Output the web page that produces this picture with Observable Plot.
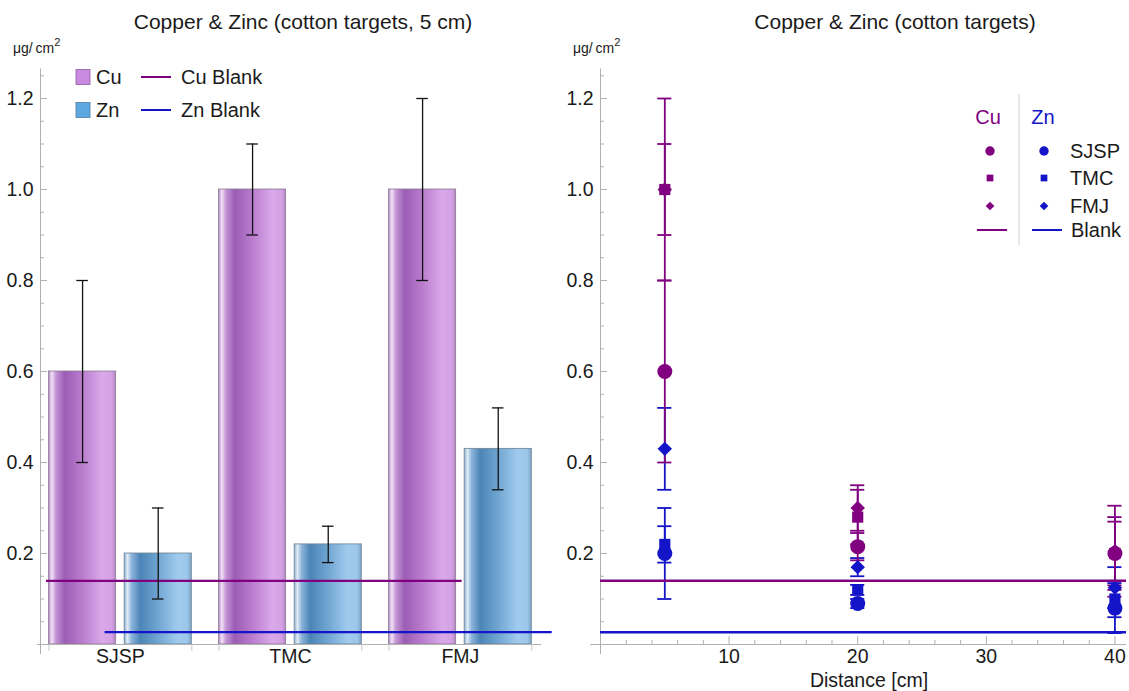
<!DOCTYPE html>
<html><head><meta charset="utf-8">
<script src="https://cdn.jsdelivr.net/npm/d3@7"></script>
<script src="https://cdn.jsdelivr.net/npm/@observablehq/plot@0.6"></script>
<style>
body{margin:0;background:#fff;}
#wrap{position:relative;width:1129px;height:691px;overflow:hidden;background:#fff;}
.panel{position:absolute;top:0;}
#overlay{position:absolute;left:0;top:0;pointer-events:none;}
</style></head>
<body><div id="wrap"><div id="left" class="panel" style="left:0"></div><div id="right" class="panel" style="left:560px"></div></div>
<script>
// ---------------- data ----------------
const sources = ["SJSP", "TMC", "FMJ"];
// 5 cm bar chart
const cu5 = [0.6, 1.0, 1.0];
const cu5Err = [0.2, 0.1, 0.2];
const zn5 = [0.2, 0.22, 0.43];
const zn5Err = [0.1, 0.04, 0.09];
const cuBlank = 0.14;
const znBlank = 0.027;
// distance chart (rows: SJSP, TMC, FMJ; columns: distances)
const distances = [5, 20, 40];
const cuByDist = [[0.6, 0.215, 0.2], [1.0, 0.28, 0.2], [1.0, 0.30, 0.205]];
const cuByDistErr = [[0.2, 0.03, 0.07], [0.1, 0.06, 0.08], [0.2, 0.05, 0.1]];
const znByDist = [[0.2, 0.09, 0.08], [0.22, 0.12, 0.1], [0.43, 0.17, 0.125]];
const znByDistErr = [[0.1, 0.01, 0.055], [0.04, 0.011, 0.04], [0.09, 0.02, 0.045]];
const yTicks = [0.2, 0.4, 0.6, 0.8, 1.0, 1.2];
const distTicks = [10, 20, 30, 40];
const symbols = ["circle", "square", "diamond2"];

// ---------------- style ----------------
const FONT = "'Liberation Sans', Arial, sans-serif";
const TICK_FS = 19.5;
const cuColor = "#800080";
const znColor = "#1414c8";
const axisGray = "#b0b0b0";
const textColor = "#1a1a1a";
const H = 691, MB = 47, yTop = 1.265;
const MT = H - MB - yTop * 455;
const innerH = H - MT - MB;
const minorY = d3.range(1, 26).map(k => +(k * 0.05).toFixed(2)).filter((v, k) => (k + 1) % 4 !== 0);
const baseStyle = {fontFamily: FONT, fontSize: TICK_FS + "px", color: textColor, background: "transparent", overflow: "visible"};

// ---------------- left chart ----------------
const bars = sources.flatMap((s, i) => [
  {pos: i + 1, el: "Cu", v: cu5[i], e: cu5Err[i]},
  {pos: i + 1, el: "Zn", v: zn5[i], e: zn5Err[i]}
]);
const off = {Cu: [-0.42, -0.025], Zn: [0.025, 0.42]};
bars.forEach(b => { b.x1 = b.pos + off[b.el][0]; b.x2 = b.pos + off[b.el][1]; b.xc = (b.x1 + b.x2) / 2; });
const caps = bars.flatMap(b => [{xc: b.xc, y: b.v - b.e}, {xc: b.xc, y: b.v + b.e}]);
const edges = sources.flatMap((s, i) => [i + 1 - 0.42, i + 1 + 0.42]);
const LW = 560, LML = 40, LMR = 19;
const innerWL = LW - LML - LMR;

const left = Plot.plot({
  width: LW, height: H, marginLeft: LML, marginRight: LMR, marginTop: MT, marginBottom: MB,
  x: {domain: [0.53, 3.477]}, y: {domain: [0, yTop]},
  style: baseStyle,
  marks: [
    Plot.rectY(bars.filter(b => b.el === "Cu"), {x1: "x1", x2: "x2", y1: 0, y2: "v", fill: "url(#gCu)", stroke: "#8a7a90", strokeWidth: 0.8}),
    Plot.rectY(bars.filter(b => b.el === "Zn"), {x1: "x1", x2: "x2", y1: 0, y2: "v", fill: "url(#gZn)", stroke: "#6f8090", strokeWidth: 0.8}),
    Plot.ruleY([cuBlank], {x1: 0.565, x2: 3.01, stroke: cuColor, strokeWidth: 2.2}),
    Plot.ruleY([znBlank], {x1: 0.91, x2: 3.54, stroke: znColor, strokeWidth: 2.2}),
    Plot.ruleX(bars, {x: "xc", y1: d => d.v - d.e, y2: d => d.v + d.e, stroke: "#111", strokeWidth: 1.3}),
    Plot.ruleY(caps, {y: "y", x1: d => d.xc - 0.034, x2: d => d.xc + 0.034, stroke: "#111", strokeWidth: 1.3}),
    Plot.ruleX([0.53], {stroke: axisGray, insetBottom: -10}),
    Plot.ruleY([0], {stroke: axisGray, insetLeft: -3}),
    Plot.ruleY(minorY, {stroke: axisGray, insetRight: innerWL - 4}),
    Plot.ruleY(yTicks, {stroke: axisGray, insetRight: innerWL - 7}),
    Plot.ruleX(edges, {stroke: "#c8c8c8", insetTop: innerH, insetBottom: -7}),
    Plot.axisY({ticks: yTicks, tickSize: 0, tickPadding: 7, tickFormat: d3.format(".1f"), label: null, fontSize: TICK_FS}),
    Plot.axisX({ticks: [1, 2, 3], tickFormat: d => sources[d - 1], tickSize: 0, tickPadding: 5, label: null, fontSize: TICK_FS})
  ]
});
document.getElementById("left").appendChild(left);
d3.select(left).insert("defs", ":first-child").html(`
<linearGradient id="gCu" x1="0" x2="1" y1="0" y2="0">
 <stop offset="0" stop-color="#b58ac8"/><stop offset="0.05" stop-color="#f2e2f7"/>
 <stop offset="0.11" stop-color="#c496d6"/><stop offset="0.24" stop-color="#9b5db5"/>
 <stop offset="0.5" stop-color="#b97ccd"/><stop offset="0.8" stop-color="#daa9ea"/>
 <stop offset="0.94" stop-color="#d4a2e4"/><stop offset="1" stop-color="#b487c6"/>
</linearGradient>
<linearGradient id="gZn" x1="0" x2="1" y1="0" y2="0">
 <stop offset="0" stop-color="#8db2d4"/><stop offset="0.05" stop-color="#dfecf6"/>
 <stop offset="0.11" stop-color="#8cb4da"/><stop offset="0.24" stop-color="#4b85b7"/>
 <stop offset="0.5" stop-color="#70a5d1"/><stop offset="0.8" stop-color="#a0cbee"/>
 <stop offset="0.94" stop-color="#9cc6ea"/><stop offset="1" stop-color="#7aa3c8"/>
</linearGradient>`);

// ---------------- right chart ----------------
const pts = [];
["Cu", "Zn"].forEach(el => {
  const M = el === "Cu" ? cuByDist : znByDist, E = el === "Cu" ? cuByDistErr : znByDistErr;
  sources.forEach((s, i) => distances.forEach((d, j) => pts.push({el, src: s, sym: symbols[i], d, v: M[i][j], e: E[i][j]})));
});
const ptCaps = pts.flatMap(p => [{el: p.el, d: p.d, y: p.v - p.e}, {el: p.el, d: p.d, y: p.v + p.e}]);
const RW = 569, RML = 40, RMR = 3;
const innerWR = RW - RML - RMR;
const minorX = d3.range(1, 21).map(k => k * 2).filter(v => v % 10 !== 0);
const col = el => el === "Cu" ? cuColor : znColor;
const symR = {circle: 7.5, square: 6.3, diamond2: 6.5};
const errMarks = el => [
  Plot.ruleX(pts.filter(p => p.el === el), {x: "d", y1: d => d.v - d.e, y2: d => d.v + d.e, stroke: col(el), strokeWidth: 1.8}),
  Plot.ruleY(ptCaps.filter(p => p.el === el), {y: "y", x1: d => d.d - 0.55, x2: d => d.d + 0.55, stroke: col(el), strokeWidth: 1.8})
];
const dotMarks = el => symbols.map(s => Plot.dot(pts.filter(p => p.el === el && p.sym === s), {x: "d", y: "v", symbol: s, r: symR[s], fill: col(el), stroke: "none"}));

const right = Plot.plot({
  width: RW, height: H, marginLeft: RML, marginRight: RMR, marginTop: MT, marginBottom: MB,
  x: {domain: [0, 40.9]}, y: {domain: [0, yTop]},
  style: baseStyle,
  marks: [
    Plot.ruleX([0], {stroke: axisGray, insetBottom: -10}),
    Plot.ruleY([0], {stroke: axisGray, insetLeft: -10}),
    Plot.ruleY(minorY, {stroke: axisGray, insetRight: innerWR - 4}),
    Plot.ruleY(yTicks, {stroke: axisGray, insetRight: innerWR - 7}),
    Plot.ruleX(minorX, {stroke: axisGray, insetTop: innerH - 4}),
    Plot.ruleX(distTicks, {stroke: axisGray, insetTop: innerH - 8}),
    ...errMarks("Zn"),
    ...errMarks("Cu"),
    ...dotMarks("Cu"),
    ...dotMarks("Zn"),
    Plot.ruleY([cuBlank], {stroke: cuColor, strokeWidth: 2.5}),
    Plot.ruleY([znBlank], {stroke: znColor, strokeWidth: 2.5}),
    Plot.axisY({ticks: yTicks, tickSize: 0, tickPadding: 7, tickFormat: d3.format(".1f"), label: null, fontSize: TICK_FS}),
    Plot.axisX({ticks: distTicks, tickSize: 0, tickPadding: 5, label: null, fontSize: TICK_FS})
  ]
});
document.getElementById("right").appendChild(right);

// ---------------- titles, units, legends ----------------
const ov = d3.select("#wrap").append("svg").attr("id", "overlay")
  .attr("width", 1129).attr("height", 691)
  .style("font-family", FONT).style("fill", textColor);
function txt(x, y, s, size, anchor = "start", fill = textColor) {
  return ov.append("text").attr("x", x).attr("y", y).attr("font-size", size)
    .attr("text-anchor", anchor).attr("dominant-baseline", "central").attr("fill", fill).text(s);
}
txt(303, 21, "Copper & Zinc (cotton targets, 5 cm)", 21, "middle");
txt(895, 21, "Copper & Zinc (cotton targets)", 21, "middle");
[13, 573].forEach(x => {
  const t = txt(x, 48, "μg/\u2009cm", 14);
  t.append("tspan").attr("dy", -6).attr("font-size", 11).text("2");
});
txt(869, 680, "Distance [cm]", 19.5, "middle");

// left legend
const LEG_FS = 20;
const LL = [{name: "Cu", fill: "#c98be0", stroke: "#8f5ea3", line: cuColor, y: 77},
            {name: "Zn", fill: "#5ea8e2", stroke: "#4b7aa3", line: znColor, y: 110}];
LL.forEach(r => {
  ov.append("rect").attr("x", 76).attr("y", r.y - 7.5).attr("width", 14).attr("height", 15)
    .attr("fill", r.fill).attr("stroke", r.stroke).attr("stroke-width", 0.8);
  txt(96, r.y, r.name, LEG_FS);
  ov.append("line").attr("x1", 141).attr("x2", 171).attr("y1", r.y).attr("y2", r.y)
    .attr("stroke", r.line).attr("stroke-width", 2);
  txt(181, r.y, r.name + " Blank", LEG_FS);
});

// right legend
txt(988, 117, "Cu", LEG_FS, "middle", cuColor);
txt(1043, 117, "Zn", LEG_FS, "middle", znColor);
ov.append("line").attr("x1", 1019).attr("x2", 1019).attr("y1", 94).attr("y2", 245)
  .attr("stroke", "#cfcfcf").attr("stroke-width", 1);
const legR = {circle: 4.7, square: 3.8, diamond2: 3.9};
const rowY = [151, 178, 206];
symbols.forEach((s, i) => {
  const sym = d3.symbol().type(s === "circle" ? d3.symbolCircle : s === "square" ? d3.symbolSquare : d3.symbolDiamond2)
    .size(Math.PI * legR[s] * legR[s]);
  [[990, cuColor], [1044, znColor]].forEach(([x, c]) => {
    ov.append("path").attr("d", sym()).attr("transform", `translate(${x},${rowY[i]})`).attr("fill", c);
  });
  txt(1070, rowY[i], sources[i], LEG_FS);
});
ov.append("line").attr("x1", 977).attr("x2", 1007).attr("y1", 230).attr("y2", 230).attr("stroke", cuColor).attr("stroke-width", 2);
ov.append("line").attr("x1", 1032).attr("x2", 1062).attr("y1", 230).attr("y2", 230).attr("stroke", znColor).attr("stroke-width", 2);
txt(1071, 230, "Blank", LEG_FS);
</script>
</body></html>
